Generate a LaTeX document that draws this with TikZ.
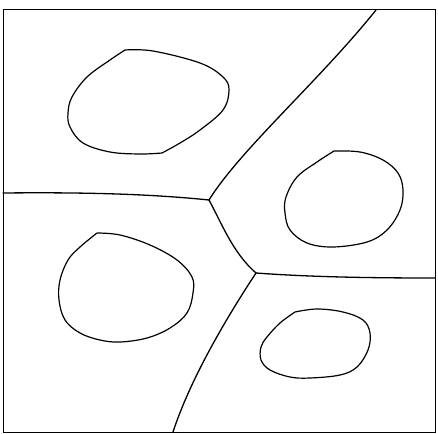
\documentclass[tikz,border=0pt]{standalone}
\begin{document}
\begin{tikzpicture}[x=1pt,y=-1pt,
  wall/.style={line width=1.3pt,line join=round,line cap=round},
  frame/.style={line width=0.6pt},
  blob/.style={line width=1.2pt,line join=round}]
\useasboundingbox (0,0) rectangle (438,433);
\draw[frame] (3,9) rectangle (435,432);
\coordinate (J1) at (209,200);
\coordinate (J2) at (256,273);
\coordinate (T) at (376,10);
\coordinate (L) at (3,193);
\coordinate (R) at (435,278);
\coordinate (B) at (173,432);
% walls
\draw[wall] (T) .. controls (320,80) and (240,150) .. (J1);
\draw[wall] (L) .. controls (100,192) and (160,195) .. (J1);
\draw[wall] (J1) .. controls (222,224) and (233,253) .. (J2);
\draw[wall] (J2) .. controls (310,277) and (370,278) .. (R);
\draw[wall] (J2) .. controls (225,320) and (190,380) .. (B);
% blobs
\draw[blob] plot[smooth,tension=0.6] coordinates {(125,50) (153,51) (200,63) (223,77) (229,90) (223,110) (200,130) (180,143) (162,153)};
\draw[blob] plot[smooth,tension=0.6] coordinates {(162,153) (140,154) (110,152) (83,143) (70,127) (68,113) (72,97) (87,77) (110,60) (125,50)};
\draw[blob] plot[smooth,tension=0.6] coordinates {(334,151) (360,152) (383,160) (398,173) (403,190) (400,210) (387,230) (367,242) (333,247) (307,243) (290,230) (285,213) (286,197) (297,177) (317,162) (334,151)};
\draw[blob] plot[smooth,tension=0.6] coordinates {(97,233) (120,235) (150,245) (177,260) (192,277) (193,293) (187,313) (170,328) (147,338) (120,342) (100,340) (80,333) (65,320) (59,300) (60,280) (68,260) (80,247) (97,233)};
\draw[blob] plot[smooth,tension=0.6] coordinates {(295,312) (317,309) (343,312) (363,320) (370,333) (368,350) (357,367) (340,375) (310,378) (290,377) (270,370) (261,360) (261,347) (267,337) (280,323) (295,312)};
\end{tikzpicture}
\end{document}
